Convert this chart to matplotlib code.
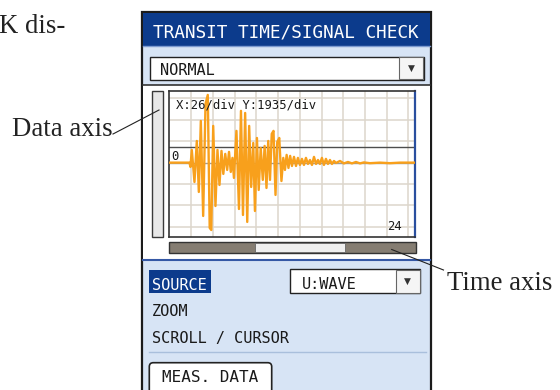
import matplotlib
matplotlib.use('Agg')
import matplotlib.pyplot as plt
from matplotlib import font_manager
from matplotlib.patches import Rectangle, FancyBboxPatch

# Screen values
x_per_div = 26      # us per division
y_per_div = 1935    # counts per division
level_line = 1450   # dark horizontal level line above zero
gain_label = '24'
title = 'TRANSIT TIME/SIGNAL CHECK'
mode = 'NORMAL'
menu_items = ['SOURCE', 'ZOOM', 'SCROLL / CURSOR']
source = 'U:WAVE'
button = 'MEAS. DATA'

# received waveform: time (us) and amplitude (counts)
time_us = [0, 24.1, 25.3, 26.9, 30.1, 32.9, 35.3, 37.7, 40.5, 43.3, 46.0, 48.3,
           50.2, 52.5, 55.2, 57.6, 60.0, 62.4, 64.6, 66.9, 69.2, 71.4, 73.5,
           75.5, 77.3, 80.3, 83.3, 85.7, 88.1, 90.7, 93.2, 95.5, 97.9, 100.4,
           102.4, 104.8, 106.9, 109.3, 111.8, 114.0, 116.2, 118.3, 120.4,
           122.5, 124.6, 127.0, 129.1, 131.5, 134.1, 136.3, 138.3, 140.3,
           142.5, 144.5, 146.7, 149.1, 151.5, 153.8, 156.2, 158.6, 161.0,
           163.4, 165.8, 168.2, 170.6, 173.0, 175.4, 177.8, 180.1, 182.5,
           184.9, 187.3, 189.7, 192.1, 194.5, 196.9, 199.3, 204.1, 208.8,
           213.6, 218.4, 223.2, 228.0, 232.7, 239.9, 251.9, 263.8, 275.8, 293.7]
amplitude = [0, 0, -390, 1150, -1750, 1960, -2650, 3770, -4820, 5310, 6120, -5900,
             -6090, 3320, -3920, 1150, -2020, 1060, -1020, 790, -660, 970, -840,
             430, -1380, 2870, -4190, 4680, -4730, 4490, -5360, 3320, -2200, 1780,
             -4370, 2230, -2470, 1330, -1560, 1510, -2290, 1960, -1560,
             2600, 2870, -2920, 1870, 2230, -1660, 430, -660, 700,
             -480, 610, -300, 520, -300, 430, -210, 340, -210,
             430, -120, 240, -210, 520, -120, 240, -120, 430,
             -210, 340, -120, 240, -120, 150, -30, 150, -70,
             60, -70, 60, -70, 20, -50, 0, -50, 0, 0]

fig = plt.figure(figsize=(5.6, 3.9), dpi=100)
bg = fig.add_axes([0, 0, 1, 1])
bg.set_xlim(0, 560)
bg.set_ylim(390, 0)
bg.axis('off')

mono = 'DejaVu Sans Mono'
serif = 'Liberation Serif'
blue = '#0c3b8c'

# the screen font is a tall narrow one; use Liberation Sans Narrow when present
have_narrow = any(f.name == 'Liberation Sans Narrow' for f in font_manager.fontManager.ttflist)
if have_narrow:
    ui = 'Liberation Sans Narrow'
    size_title, size_ui, size_btn = 16, 12, 13
else:
    ui = mono
    size_title, size_ui, size_btn = 12.8, 11, 11.5


def box(x0, y0, x1, y1, fc, ec='none', lw=0):
    bg.add_patch(Rectangle((x0, y0), x1 - x0, y1 - y0, fc=fc, ec=ec, lw=lw))


# device panel
box(142, 12, 431, 396, '#d7e4f5', ec='#1b1b1b', lw=1.6)
box(143, 13, 430, 46, blue)
bg.plot([143, 430], [46, 46], color='#7d9bd0', lw=1)
bg.text(286, 37.3, title, family=ui, fontsize=size_title, color='white',
        ha='center', va='baseline')

box(149.5, 56.5, 423.5, 80, 'white', ec='#222222', lw=1)
box(399, 57.3, 422.7, 79.2, '#f5f5f5', ec='#666666', lw=0.8)
bg.text(411, 68.5, '\u25bc', fontsize=6.5, color='#333333', ha='center', va='center')
bg.text(160, 75, mode, family=ui, fontsize=size_ui, color='#1a1a1a', va='baseline')

# graph area
box(143, 84.5, 430, 259.5, 'white')
bg.plot([143, 430], [84.5, 84.5], color='#333333', lw=1.2)
bg.plot([143, 430], [260, 260], color='#3558a5', lw=1.5)
box(152.3, 90.7, 163.3, 236.7, '#e8e8e8', ec='#3a3a3a', lw=1)
box(169.3, 242.3, 416, 252.7, '#857d72', ec='#333333', lw=1)
box(255, 242.8, 345, 252.2, '#efefef', ec='#666666', lw=0.6)

# lower menu
box(149.3, 270, 210.7, 293.3, blue)
menu_y = [290, 316, 343.3]
for i, item in enumerate(menu_items):
    bg.text(151.7, menu_y[i], item, family=ui, fontsize=size_ui,
            color='white' if i == 0 else '#1a1a1a', va='baseline')
box(290, 269.3, 420, 293.3, 'white', ec='#222222', lw=1)
box(396, 270, 419.5, 292.7, '#f5f5f5', ec='#666666', lw=0.8)
bg.text(407.7, 281.5, '\u25bc', fontsize=6.5, color='#333333', ha='center', va='center')
bg.text(301.7, 289.3, source, family=ui, fontsize=size_ui, color='#1a1a1a', va='baseline')
bg.plot([149, 426], [351.7, 351.7], color='#a9bfdc', lw=1)
bg.add_patch(FancyBboxPatch((149.3, 362.7), 122.4, 40,
                            boxstyle='round,pad=0,rounding_size=4',
                            fc='white', ec='#222222', lw=1.2))
bg.text(210, 381.7, button, family=ui, fontsize=size_btn, color='#1a1a1a',
        ha='center', va='baseline')

# callouts
bg.text(-1, 33, 'K dis-', family=serif, fontsize=19.3, color='#222222', va='baseline')
bg.text(12, 136.5, 'Data axis', family=serif, fontsize=19.3, color='#222222', va='baseline')
bg.text(446.7, 289.5, 'Time axis', family=serif, fontsize=19.3, color='#222222', va='baseline')
bg.plot([113, 159], [134, 110], color='#222222', lw=0.8)
bg.plot([391.7, 443.5], [249.5, 270], color='#222222', lw=0.8)

# waveform
ax = fig.add_axes([169.3 / 560, 1 - 236.7 / 390, (415 - 169.3) / 560, (236.7 - 90.7) / 390])
ax.set_xlim(0, 11.3 * x_per_div)
ax.set_ylim(-3.46 * y_per_div, 3.36 * y_per_div)
ax.set_xticks([x_per_div * k for k in range(1, 12)])
ax.set_yticks([y_per_div * k for k in (-3, -2, -1, 1, 2, 3)])
ax.grid(color='#ddd6cc', lw=1.1)
ax.tick_params(length=0, labelbottom=False, labelleft=False)
ax.axhline(0, color='#9b9b9b', lw=1)
ax.axhline(level_line, color='#4d4d4d', lw=1)
ax.plot(time_us, amplitude, color='#f8a01c', lw=1.7, zorder=3)
for side in ('left', 'top', 'bottom'):
    ax.spines[side].set_color('#333333')
    ax.spines[side].set_linewidth(1.2)
ax.spines['right'].set_color('#2a4f9f')
ax.spines['right'].set_linewidth(1.6)

ax.text(176, 108.3, f'X:{x_per_div}/div Y:{y_per_div}/div', family=mono, fontsize=8.85,
        color='#1a1a1a', va='baseline', transform=bg.transData)
ax.text(171.5, 160, '0', family=mono, fontsize=8.85, color='#1a1a1a',
        va='baseline', transform=bg.transData)
ax.text(387, 230, gain_label, family=mono, fontsize=8.85, color='#1a1a1a',
        va='baseline', transform=bg.transData)

fig.savefig('out.png', dpi=100)
